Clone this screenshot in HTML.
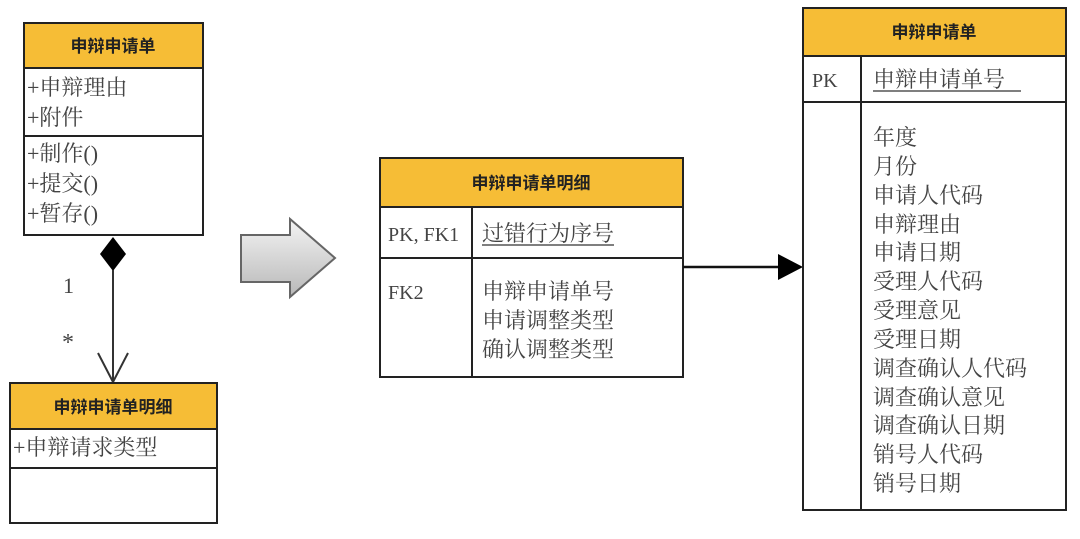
<!DOCTYPE html>
<html><head><meta charset="utf-8"><style>
body{margin:0;background:#fff;}
svg{display:block;}
text{font-family:"Liberation Serif","Noto Serif CJK SC","Noto Sans CJK SC",serif;fill:#444;}
.h{font-family:"Liberation Sans","Noto Sans CJK SC",sans-serif;font-weight:bold;fill:#222;font-size:17px;}
</style></head><body>
<svg width="1080" height="539" viewBox="0 0 1080 539" xmlns="http://www.w3.org/2000/svg">
<defs><linearGradient id="g" x1="0" y1="0" x2="0" y2="1"><stop offset="0" stop-color="#f4f4f4"/><stop offset="1" stop-color="#b8b8b8"/></linearGradient></defs>
<rect x="24" y="23" width="179" height="212" fill="#fff" stroke="#222" stroke-width="2"/>
<rect x="24" y="23" width="179" height="45" fill="#f6bd36" stroke="#222" stroke-width="2"/>
<line x1="24" y1="136" x2="203" y2="136" stroke="#222" stroke-width="2"/>
<text class="h" x="113" y="52" text-anchor="middle">申辩申请单</text>
<g font-size="22">
<text x="27" y="95">+申辩理由</text>
<text x="27" y="125">+附件</text>
<text x="27" y="161">+制作()</text>
<text x="27" y="191">+提交()</text>
<text x="27" y="221">+暂存()</text>
</g>
<polygon points="113,237 126,254 113,271 100,254" fill="#000"/>
<line x1="113" y1="270" x2="113" y2="383" stroke="#333" stroke-width="2"/>
<polyline points="98,353 113,382 128,353" fill="none" stroke="#333" stroke-width="2"/>
<text x="63" y="293" font-size="22">1</text>
<text x="62" y="350" font-size="24">*</text>
<rect x="10" y="383" width="207" height="140" fill="#fff" stroke="#222" stroke-width="2"/>
<rect x="10" y="383" width="207" height="46" fill="#f6bd36" stroke="#222" stroke-width="2"/>
<line x1="10" y1="468" x2="217" y2="468" stroke="#222" stroke-width="2"/>
<text class="h" x="113" y="413" text-anchor="middle">申辩申请单明细</text>
<text x="13" y="455" font-size="22">+申辩请求类型</text>
<polygon points="241,235 290,235 290,219 335,258 290,297 290,282 241,282" fill="url(#g)" stroke="#666" stroke-width="2"/>
<rect x="380" y="158" width="303" height="219" fill="#fff" stroke="#222" stroke-width="2"/>
<rect x="380" y="158" width="303" height="49" fill="#f6bd36" stroke="#222" stroke-width="2"/>
<line x1="380" y1="258" x2="683" y2="258" stroke="#222" stroke-width="2"/>
<line x1="472" y1="207" x2="472" y2="377" stroke="#222" stroke-width="2"/>
<text class="h" x="531" y="189" text-anchor="middle">申辩申请单明细</text>
<text x="388" y="241" font-size="20" fill="#222">PK, FK1</text>
<text x="482" y="241" font-size="22">过错行为序号</text>
<line x1="482" y1="245" x2="614" y2="245" stroke="#555" stroke-width="1.5"/>
<text x="388" y="299" font-size="20">FK2</text>
<g font-size="22">
<text x="482" y="299">申辩申请单号</text>
<text x="482" y="328">申请调整类型</text>
<text x="482" y="357">确认调整类型</text>
</g>
<line x1="683" y1="267" x2="780" y2="267" stroke="#111" stroke-width="2.5"/>
<polygon points="778,254 803,267 778,280" fill="#000"/>
<rect x="803" y="8" width="263" height="502" fill="#fff" stroke="#222" stroke-width="2"/>
<rect x="803" y="8" width="263" height="48" fill="#f6bd36" stroke="#222" stroke-width="2"/>
<line x1="803" y1="102" x2="1066" y2="102" stroke="#222" stroke-width="2"/>
<line x1="861" y1="56" x2="861" y2="510" stroke="#222" stroke-width="2"/>
<text class="h" x="934" y="38" text-anchor="middle">申辩申请单</text>
<text x="812" y="87" font-size="20" fill="#222">PK</text>
<text x="873" y="87" font-size="22">申辩申请单号</text>
<line x1="873" y1="91" x2="1021" y2="91" stroke="#555" stroke-width="1.5"/>
<g font-size="22">
<text x="873" y="145">年度</text>
<text x="873" y="174">月份</text>
<text x="873" y="203">申请人代码</text>
<text x="873" y="232">申辩理由</text>
<text x="873" y="260">申请日期</text>
<text x="873" y="289">受理人代码</text>
<text x="873" y="318">受理意见</text>
<text x="873" y="347">受理日期</text>
<text x="873" y="376">调查确认人代码</text>
<text x="873" y="405">调查确认意见</text>
<text x="873" y="433">调查确认日期</text>
<text x="873" y="462">销号人代码</text>
<text x="873" y="491">销号日期</text>
</g>
</svg>
</body></html>
